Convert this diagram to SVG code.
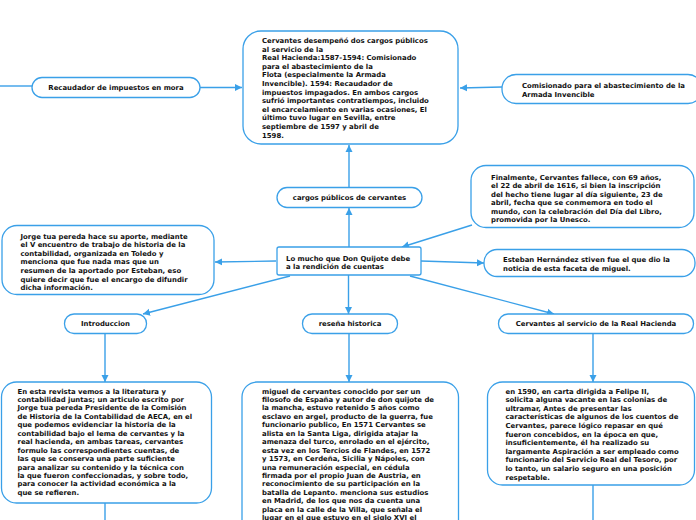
<svg xmlns="http://www.w3.org/2000/svg" width="696" height="520" viewBox="0 0 696 520">
<style>
.box{fill:#ffffff;stroke:#3aa0e8;stroke-width:1.3}
.ln{fill:none;stroke:#3aa0e8;stroke-width:1.4}
text{font-family:"DejaVu Sans",Verdana,sans-serif;font-weight:bold;font-size:6.9px;fill:#111111}
.c{text-anchor:middle}
</style>
<defs>
<marker id="ah" markerUnits="userSpaceOnUse" markerWidth="8" markerHeight="8" viewBox="0 0 8 8" refX="7" refY="4" orient="auto">
<path d="M0,0.5 L7,4 L0,7.5 Z" fill="#3aa0e8"/>
</marker>
</defs>
<rect width="696" height="520" fill="#ffffff"/>
<g id="connectors">
<path class="ln" d="M0,86 L32,86"/>
<path class="ln" d="M200,87.5 L242,87.5" marker-end="url(#ah)"/>
<path class="ln" d="M502,87 L460,88" marker-end="url(#ah)"/>
<path class="ln" d="M349,187 L349,145" marker-end="url(#ah)"/>
<path class="ln" d="M349,247 L349,208" marker-end="url(#ah)"/>
<path class="ln" d="M472,225 L402,247" marker-end="url(#ah)"/>
<path class="ln" d="M276,261 L215,262" marker-end="url(#ah)"/>
<path class="ln" d="M421,261 L484,263" marker-end="url(#ah)"/>
<path class="ln" d="M290,276 L143,314" marker-end="url(#ah)"/>
<path class="ln" d="M348.5,275 L348.5,314" marker-end="url(#ah)"/>
<path class="ln" d="M410,276 L554,314" marker-end="url(#ah)"/>
<path class="ln" d="M105,333 L105,382" marker-end="url(#ah)"/>
<path class="ln" d="M349,333 L349,382" marker-end="url(#ah)"/>
<path class="ln" d="M593,333 L593,382" marker-end="url(#ah)"/>
<path class="ln" d="M105,503 L105,520"/>
<path class="ln" d="M593,485 L593,520"/>
</g>
<g id="n-top">
<rect class="box" x="243" y="31" width="215" height="113" rx="18"/>
<text x="262" y="43"><tspan x="262">Cervantes desempeñó dos cargos públicos</tspan><tspan x="262" dy="8.6">al servicio de la</tspan><tspan x="262" dy="8.6">Real Hacienda:1587-1594: Comisionado</tspan><tspan x="262" dy="8.6">para el abastecimiento de la</tspan><tspan x="262" dy="8.6">Flota (especialmente la Armada</tspan><tspan x="262" dy="8.6">Invencible). 1594: Recaudador de</tspan><tspan x="262" dy="8.6">impuestos impagados. En ambos cargos</tspan><tspan x="262" dy="8.6">sufrió importantes contratiempos, incluido</tspan><tspan x="262" dy="8.6">el encarcelamiento en varias ocasiones, El</tspan><tspan x="262" dy="8.6">último tuvo lugar en Sevilla, entre</tspan><tspan x="262" dy="8.6">septiembre de 1597 y abril de</tspan><tspan x="262" dy="8.6">1598.</tspan></text>
</g>
<g id="n-recaudador">
<rect class="box" x="32" y="77.5" width="168" height="20" rx="10"/>
<text class="c" x="116" y="90">Recaudador de impuestos en mora</text>
</g>
<g id="n-comisionado">
<rect class="box" x="502" y="74.5" width="200" height="29" rx="14"/>
<text x="522" y="88.3"><tspan x="522">Comisionado para el abastecimiento de la</tspan><tspan x="522" dy="8.6">Armada Invencible</tspan></text>
</g>
<g id="n-finalmente">
<rect class="box" x="471" y="165.5" width="223" height="62" rx="15"/>
<text x="491" y="179.5"><tspan x="491">Finalmente, Cervantes fallece, con 69 años,</tspan><tspan x="491" dy="8.5">el 22 de abril de 1616, si bien la inscripción</tspan><tspan x="491" dy="8.5">del hecho tiene lugar al día siguiente, 23 de</tspan><tspan x="491" dy="8.5">abril, fecha que se conmemora en todo el</tspan><tspan x="491" dy="8.5">mundo, con la celebración del Día del Libro,</tspan><tspan x="491" dy="8.5">promovida por la Unesco.</tspan></text>
</g>
<g id="n-cargos">
<rect class="box" x="277" y="187.5" width="145" height="20" rx="10"/>
<text class="c" x="349.5" y="199.8">cargos públicos de cervantes</text>
</g>
<g id="n-main">
<rect class="box" x="277" y="247" width="144" height="28" rx="2"/>
<text x="286" y="260.5"><tspan x="286">Lo mucho que Don Quijote debe</tspan><tspan x="286" dy="8.6">a la rendición de cuentas</tspan></text>
</g>
<g id="n-jorge">
<rect class="box" x="2" y="225.5" width="212" height="69" rx="15"/>
<text x="20.5" y="238.5"><tspan x="20.5">Jorge tua pereda hace su aporte, mediante</tspan><tspan x="20.5" dy="8.6">el V encuentro de trabajo de historia de la</tspan><tspan x="20.5" dy="8.6">contabilidad, organizada en Toledo y</tspan><tspan x="20.5" dy="8.6">menciona que fue nada mas que un</tspan><tspan x="20.5" dy="8.6">resumen de la aportado por Esteban, eso</tspan><tspan x="20.5" dy="8.6">quiere decir que fue el encargo de difundir</tspan><tspan x="20.5" dy="8.6">dicha información.</tspan></text>
</g>
<g id="n-esteban">
<rect class="box" x="484" y="249.5" width="211" height="27" rx="13"/>
<text x="503" y="262"><tspan x="503">Esteban Hernández stiven fue el que dio la</tspan><tspan x="503" dy="8.7">noticia de esta faceta de miguel.</tspan></text>
</g>
<g id="n-intro">
<rect class="box" x="64.5" y="314" width="82" height="19.5" rx="9.5"/>
<text class="c" x="105.5" y="326">Introduccion</text>
</g>
<g id="n-resena">
<rect class="box" x="302.5" y="314" width="95" height="19.5" rx="9.5"/>
<text class="c" x="350" y="326">reseña historica</text>
</g>
<g id="n-hacienda">
<rect class="box" x="498.5" y="314" width="195" height="19.5" rx="9.5"/>
<text class="c" x="596" y="326">Cervantes al servicio de la Real Hacienda</text>
</g>
<g id="n-intro-text">
<rect class="box" x="1.5" y="382" width="210" height="121" rx="15"/>
<text x="17.5" y="393.5"><tspan x="17.5">En esta revista vemos a la literatura y</tspan><tspan x="17.5" dy="8.45">contabilidad juntas; un articulo escrito por</tspan><tspan x="17.5" dy="8.45">Jorge tua pereda Presidente de la Comisión</tspan><tspan x="17.5" dy="8.45">de Historia de la Contabilidad de AECA, en el</tspan><tspan x="17.5" dy="8.45">que podemos evidenciar la historia de la</tspan><tspan x="17.5" dy="8.45">contabilidad bajo el lema de cervantes y la</tspan><tspan x="17.5" dy="8.45">real hacienda, en ambas tareas, cervantes</tspan><tspan x="17.5" dy="8.45">formulo las correspondientes cuentas, de</tspan><tspan x="17.5" dy="8.45">las que se conserva una parte suficiente</tspan><tspan x="17.5" dy="8.45">para analizar su contenido y la técnica con</tspan><tspan x="17.5" dy="8.45">la que fueron confeccionadas, y sobre todo,</tspan><tspan x="17.5" dy="8.45">para conocer la actividad económica a la</tspan><tspan x="17.5" dy="8.45">que se refieren.</tspan></text>
</g>
<g id="n-resena-text">
<rect class="box" x="242" y="382" width="216.5" height="160" rx="15"/>
<text x="262" y="393.5"><tspan x="262">miguel de cervantes conocido por ser un</tspan><tspan x="262" dy="8.45">filosofo de España y autor de don quijote de</tspan><tspan x="262" dy="8.45">la mancha, estuvo retenido 5 años como</tspan><tspan x="262" dy="8.45">esclavo en argel, producto de la guerra, fue</tspan><tspan x="262" dy="8.45">funcionario publico, En 1571 Cervantes se</tspan><tspan x="262" dy="8.45">alista en la Santa Liga, dirigida atajar la</tspan><tspan x="262" dy="8.45">amenaza del turco, enrolado en el ejército,</tspan><tspan x="262" dy="8.45">esta vez en los Tercios de Flandes, en 1572</tspan><tspan x="262" dy="8.45">y 1573, en Cerdeña, Sicilia y Nápoles, con</tspan><tspan x="262" dy="8.45">una remuneración especial, en cédula</tspan><tspan x="262" dy="8.45">firmada por el propio Juan de Austria, en</tspan><tspan x="262" dy="8.45">reconocimiento de su participación en la</tspan><tspan x="262" dy="8.45">batalla de Lepanto. menciona sus estudios</tspan><tspan x="262" dy="8.45">en Madrid, de los que nos da cuenta una</tspan><tspan x="262" dy="8.45">placa en la calle de la Villa, que señala el</tspan><tspan x="262" dy="8.45">lugar en el que estuvo en el siglo XVI el</tspan></text>
</g>
<g id="n-hacienda-text">
<rect class="box" x="487.5" y="382" width="207" height="103" rx="15"/>
<text x="505.5" y="393.5"><tspan x="505.5">en 1590, en carta dirigida a Felipe II,</tspan><tspan x="505.5" dy="8.6">solicita alguna vacante en las colonias de</tspan><tspan x="505.5" dy="8.6">ultramar, Antes de presentar las</tspan><tspan x="505.5" dy="8.6">características de algunos de los cuentos de</tspan><tspan x="505.5" dy="8.6">Cervantes, parece lógico repasar en qué</tspan><tspan x="505.5" dy="8.6">fueron concebidos, en la época en que,</tspan><tspan x="505.5" dy="8.6">insuficientemente, él ha realizado su</tspan><tspan x="505.5" dy="8.6">largamente Aspiración a ser empleado como</tspan><tspan x="505.5" dy="8.6">funcionario del Servicio Real del Tesoro, por</tspan><tspan x="505.5" dy="8.6">lo tanto, un salario seguro en una posición</tspan><tspan x="505.5" dy="8.6">respetable.</tspan></text>
</g>
</svg>
